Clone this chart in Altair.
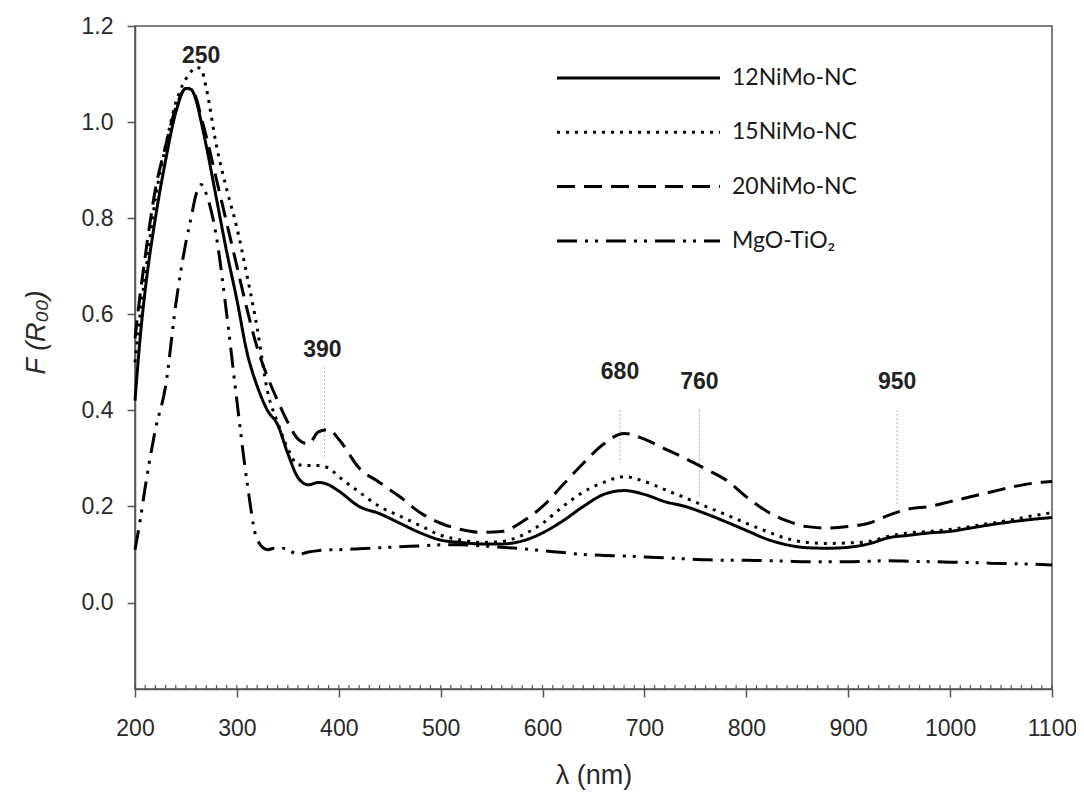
import altair as alt
import pandas as pd

# ---------------- data ----------------
wl = [200, 205, 210, 220, 230, 240, 250, 255, 260, 265, 270, 280, 290, 300, 310, 320, 330,
      340, 350, 360, 370, 380, 390, 400, 420, 440, 460, 480, 500, 520, 540, 560, 580,
      600, 620, 640, 660, 680, 700, 720, 740, 760, 780, 800, 820, 840, 860, 880, 900,
      920, 940, 960, 980, 1000, 1020, 1040, 1060, 1080, 1100]

s12 = [0.42, 0.55, 0.65, 0.80, 0.92, 1.02, 1.07, 1.068, 1.045, 1.00, 0.95, 0.84, 0.73, 0.63, 0.52, 0.45, 0.40,
       0.37, 0.31, 0.26, 0.245, 0.25, 0.245, 0.232, 0.20, 0.185, 0.165, 0.145, 0.13, 0.125, 0.122, 0.122, 0.128,
       0.145, 0.17, 0.20, 0.225, 0.233, 0.225, 0.21, 0.20, 0.185, 0.168, 0.15, 0.132, 0.12, 0.114, 0.113, 0.115,
       0.122, 0.135, 0.14, 0.145, 0.148, 0.155, 0.162, 0.168, 0.173, 0.177]

s15 = [0.50, 0.60, 0.68, 0.84, 0.95, 1.04, 1.09, 1.105, 1.114, 1.11, 1.07, 0.95, 0.86, 0.78, 0.68, 0.57, 0.44,
       0.375, 0.32, 0.287, 0.285, 0.285, 0.28, 0.262, 0.23, 0.20, 0.18, 0.16, 0.14, 0.13, 0.125, 0.127, 0.14,
       0.165, 0.20, 0.23, 0.25, 0.262, 0.252, 0.235, 0.218, 0.20, 0.183, 0.165, 0.148, 0.133, 0.125, 0.123, 0.124,
       0.127, 0.138, 0.145, 0.148, 0.152, 0.158, 0.165, 0.172, 0.18, 0.187]

s20 = [0.55, 0.64, 0.72, 0.86, 0.95, 1.03, 1.07, 1.07, 1.05, 1.01, 0.97, 0.88, 0.79, 0.70, 0.61, 0.53, 0.47,
       0.42, 0.375, 0.34, 0.33, 0.355, 0.36, 0.34, 0.28, 0.25, 0.22, 0.187, 0.165, 0.152, 0.146, 0.148, 0.168,
       0.20, 0.245, 0.29, 0.33, 0.352, 0.34, 0.32, 0.30, 0.278, 0.255, 0.22, 0.19, 0.17, 0.158, 0.155, 0.158,
       0.165, 0.182, 0.195, 0.20, 0.21, 0.22, 0.23, 0.24, 0.248, 0.252]

smg = [0.11, 0.17, 0.24, 0.36, 0.45, 0.62, 0.75, 0.80, 0.85, 0.87, 0.85, 0.76, 0.60, 0.42, 0.25, 0.13, 0.11,
       0.115, 0.11, 0.10, 0.105, 0.108, 0.11, 0.11, 0.112, 0.114, 0.116, 0.118, 0.12, 0.12, 0.118, 0.115, 0.112,
       0.108, 0.104, 0.10, 0.098, 0.097, 0.095, 0.093, 0.091, 0.089, 0.088, 0.088, 0.087, 0.086, 0.085, 0.085, 0.085,
       0.086, 0.087, 0.086, 0.085, 0.084, 0.083, 0.082, 0.081, 0.08, 0.078]

series_names = ["12NiMo-NC", "15NiMo-NC", "20NiMo-NC", "MgO-TiO\u2082"]
series_values = [s12, s15, s20, smg]
dash_styles = [[1, 0], [3, 6], [18, 9], [20, 8, 3, 7, 3, 8]]

ann_labels = ["250", "390", "680", "760", "950"]
ann_x = [265, 384, 676, 754, 948]
ann_y = [1.137, 0.526, 0.48, 0.458, 0.458]
guide_x = [386, 676, 754, 948]
guide_top = [0.49, 0.40, 0.40, 0.40]
guide_bottom = [0.30, 0.29, 0.22, 0.20]

minor_ticks = list(range(200, 1101, 10))

# ---------------- tables ----------------
rows = []
for name, vals in zip(series_names, series_values):
    for x, v in zip(wl, vals):
        rows.append({"series": name, "wl": x, "F": v})
df = pd.DataFrame(rows)
leg_df = pd.DataFrame({"series": series_names, "idx": list(range(len(series_names)))})
ann_df = pd.DataFrame({"label": ann_labels, "wl": ann_x, "F": ann_y})
guide_df = pd.DataFrame({"wl": guide_x, "top": guide_top, "bottom": guide_bottom})
minor_df = pd.DataFrame({"wl": minor_ticks})

W, H = 917, 663
xscale = alt.Scale(domain=[200, 1100], nice=False, zero=False)
yscale = alt.Scale(domain=[-0.18, 1.2], nice=False, zero=False)
dash_scale = alt.Scale(domain=series_names, range=dash_styles)

AX = "#555555"
LBL = "#2a2a2a"
FONT = "Liberation Sans"

x_enc = alt.X("wl:Q", scale=xscale,
              axis=alt.Axis(title="\u03bb (nm)", values=list(range(200, 1101, 100)), format="d",
                            tickSize=8, tickColor=AX, domainColor=AX, domainWidth=1.5, tickWidth=1.5,
                            labelFont=FONT, labelFontSize=23, labelColor=LBL,
                            labelPadding=20, labelFlush=False, labelOverlap=False, grid=False,
                            titleFont=FONT, titleFontSize=27, titleFontWeight="normal",
                            titleColor=LBL, titleX=W / 2, titleY=86,
                            titleAlign="center", titleBaseline="middle"))
y_enc = alt.Y("F:Q", scale=yscale,
              axis=alt.Axis(title="F (R\u2080\u2080)", values=[0, 0.2, 0.4, 0.6, 0.8, 1.0, 1.2], format=".1f",
                            tickSize=8, tickColor=AX, domainColor=AX, domainWidth=1.5, tickWidth=1.5,
                            labelFont=FONT, labelFontSize=23, labelColor=LBL,
                            labelPadding=14, labelFlush=False, labelOverlap=False, grid=False,
                            titleFont=FONT, titleFontSize=27, titleFontWeight="normal",
                            titleFontStyle="italic", titleColor=LBL,
                            titleX=-99, titleY=306, titleAngle=270,
                            titleAlign="center", titleBaseline="middle"))

lines = alt.Chart(df).mark_line(color="black", strokeWidth=3, interpolate="monotone").encode(
    x=x_enc, y=y_enc,
    strokeDash=alt.StrokeDash("series:N", scale=dash_scale, legend=None),
    detail="series:N",
)

guides = alt.Chart(guide_df).mark_rule(color="#bbbbbb", strokeWidth=1.2, strokeDash=[2, 2]).encode(
    x=alt.X("wl:Q", scale=xscale), y=alt.Y("top:Q", scale=yscale), y2="bottom:Q")

ann = alt.Chart(ann_df).mark_text(font=FONT, fontSize=23, fontWeight="bold",
                                  color="#222222", baseline="middle", align="center").encode(
    x=alt.X("wl:Q", scale=xscale), y=alt.Y("F:Q", scale=yscale), text="label:N")

minor = alt.Chart(minor_df).mark_rule(color=AX, strokeWidth=1.2).encode(
    x=alt.X("wl:Q", scale=xscale), y=alt.value(H), y2=alt.value(H - 4))

leg_lines = alt.Chart(leg_df).mark_rule(color="black", strokeWidth=3).transform_calculate(
    ly="52 + 54.3 * datum.idx").encode(
    x=alt.value(422), x2=alt.value(585), y=alt.Y("ly:Q", scale=None),
    strokeDash=alt.StrokeDash("series:N", scale=dash_scale, legend=None))

leg_text = alt.Chart(leg_df).mark_text(font="Lato", fontSize=23, color="#1a1a1a",
                                       align="left", baseline="middle").transform_calculate(
    ly="52 + 54.3 * datum.idx").encode(
    x=alt.value(597), y=alt.Y("ly:Q", scale=None), text="series:N")

chart = alt.layer(minor, guides, lines, ann, leg_lines, leg_text).properties(
    width=W, height=H,
    autosize=alt.AutoSizeParams(type="none"),
    padding={"left": 127, "top": 18, "right": 24, "bottom": 103},
    background="white",
).configure_view(stroke=AX, strokeWidth=1.5)

chart.save("out.html", embed_options={"renderer": "svg", "actions": False})
